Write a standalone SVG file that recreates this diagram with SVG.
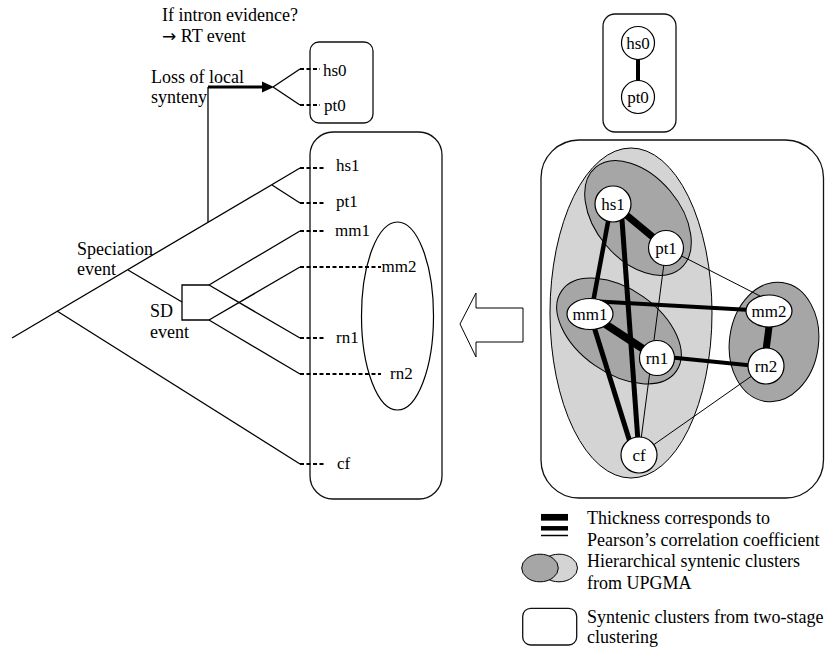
<svg xmlns="http://www.w3.org/2000/svg" width="825" height="649" viewBox="0 0 825 649">
<style>
text{font-family:"Liberation Serif","Times New Roman",serif;font-size:18px;fill:#000}
.lbl{font-size:17px}
.nl{font-size:17px;text-anchor:middle}
.ln{stroke:#000;stroke-width:1.3;fill:none}
.dash{stroke:#000;stroke-width:2.2;stroke-dasharray:4 2.5;fill:none}
.box{fill:#fff;stroke:#111;stroke-width:1.3}
.node{fill:#fff;stroke:#000;stroke-width:1.2}
.light{fill:#d4d4d4;stroke:#000;stroke-width:1}
.dark{fill:#a6a6a6;stroke:#000;stroke-width:1}
.e{stroke:#000;fill:none}
</style>

<!-- left: cluster boxes -->
<g id="box-top-left"><rect class="box" x="310" y="42" width="63" height="81" rx="9"/></g>
<g id="box-main-left"><rect class="box" x="310" y="132" width="132" height="367" rx="23"/></g>
<g id="ellipse-mm2-rn2-left"><ellipse cx="397.5" cy="316" rx="36" ry="94" fill="none" stroke="#000" stroke-width="1.2"/></g>

<!-- tree connectors -->
<g id="tree">
<line class="ln" x1="12" y1="338" x2="300" y2="168"/>
<line class="ln" x1="272" y1="185" x2="300" y2="203"/>
<line class="ln" x1="57" y1="311" x2="300" y2="464"/>
<line class="ln" x1="128" y1="270" x2="182" y2="302"/>
<polyline class="ln" points="209,285 182,285 182,320 209,320"/>
<line class="ln" x1="209" y1="285" x2="300" y2="231"/>
<line class="ln" x1="209" y1="285" x2="300" y2="338"/>
<line class="ln" x1="209" y1="320" x2="300" y2="267"/>
<line class="ln" x1="209" y1="320" x2="300" y2="374"/>
<line class="ln" x1="208" y1="222" x2="208" y2="87"/>
<line x1="208" y1="87" x2="263" y2="87" stroke="#000" stroke-width="2.8"/>
<polygon points="262,81.5 274,87 262,92.5" fill="#000"/>
<line class="ln" x1="273" y1="87" x2="300" y2="69"/>
<line class="ln" x1="273" y1="87" x2="300" y2="105"/>
<line class="dash" x1="300" y1="69" x2="320" y2="69"/>
<line class="dash" x1="300" y1="105" x2="320" y2="105"/>
<line class="dash" x1="300" y1="168" x2="326" y2="168"/>
<line class="dash" x1="300" y1="203" x2="326" y2="203"/>
<line class="dash" x1="300" y1="231" x2="326" y2="231"/>
<line class="dash" x1="300" y1="267" x2="381" y2="267"/>
<line class="dash" x1="300" y1="338" x2="326" y2="338"/>
<line class="dash" x1="300" y1="374" x2="381" y2="374"/>
<line class="dash" x1="300" y1="464" x2="326" y2="464"/>
</g>

<!-- left leaf labels -->
<g id="leaf-hs0"><text class="lbl" x="323" y="76">hs0</text></g>
<g id="leaf-pt0"><text class="lbl" x="324" y="111">pt0</text></g>
<g id="leaf-hs1"><text class="lbl" x="336" y="171">hs1</text></g>
<g id="leaf-pt1"><text class="lbl" x="336" y="207">pt1</text></g>
<g id="leaf-mm1"><text class="lbl" x="335" y="236">mm1</text></g>
<g id="leaf-mm2"><text class="lbl" x="381.5" y="272">mm2</text></g>
<g id="leaf-rn1"><text class="lbl" x="336" y="343">rn1</text></g>
<g id="leaf-rn2"><text class="lbl" x="390" y="379">rn2</text></g>
<g id="leaf-cf"><text class="lbl" x="337" y="469">cf</text></g>

<!-- annotations -->
<g id="annotations">
<text x="162" y="20.5">If intron evidence?</text>
<text x="162" y="41.5"><tspan font-family="DejaVu Sans, sans-serif" font-size="17">→</tspan> RT event</text>
<text x="151" y="82.5">Loss of local</text>
<text x="151" y="103">synteny</text>
<text x="77" y="255">Speciation</text>
<text x="77" y="275">event</text>
<text x="150" y="316.5">SD</text>
<text x="150" y="338">event</text>
</g>

<!-- big hollow arrow -->
<g id="big-arrow"><polygon points="460,324 476,293 476,308 523,308 523,342 476,342 476,357" fill="#fff" stroke="#000" stroke-width="1"/></g>

<!-- right: top box -->
<g id="box-top-right"><rect class="box" x="603" y="14" width="73" height="118" rx="12"/></g>
<g id="edge-hs0-pt0"><line class="e" x1="638" y1="59" x2="638" y2="81" stroke-width="4"/></g>
<g id="node-hs0"><circle class="node" cx="638" cy="43" r="16.5"/><text class="nl" x="638" y="49">hs0</text></g>
<g id="node-pt0"><circle class="node" cx="638" cy="97" r="16.5"/><text class="nl" x="638" y="103">pt0</text></g>

<!-- right: main box -->
<g id="box-main-right"><rect class="box" x="541" y="140" width="282.5" height="358" rx="38"/></g>
<g id="clusters">
<ellipse class="light" cx="631" cy="313" rx="81" ry="165"/>
<ellipse class="dark" cx="638" cy="218" rx="42" ry="66" transform="rotate(-40 638 218)"/>
<ellipse class="dark" cx="619" cy="331" rx="70" ry="42" transform="rotate(35 619 331)"/>
<ellipse class="dark" cx="774" cy="342" rx="44.5" ry="60" transform="rotate(8 774 342)"/>
</g>

<g id="edges">
<line class="e" x1="666" y1="248" x2="639" y2="455" stroke-width="1"/>
<line class="e" x1="666" y1="248" x2="760" y2="296" stroke-width="1"/>
<line class="e" x1="766" y1="366" x2="639" y2="455" stroke-width="1"/>
<line class="e" x1="613" y1="204" x2="666" y2="248" stroke-width="7"/>
<line class="e" x1="611" y1="206" x2="591" y2="313" stroke-width="4.5"/>
<line class="e" x1="621" y1="206" x2="639" y2="455" stroke-width="5"/>
<line class="e" x1="590" y1="314" x2="634" y2="455" stroke-width="5"/>
<line class="e" x1="590" y1="314" x2="657" y2="358" stroke-width="8"/>
<line class="e" x1="590" y1="301" x2="769" y2="311" stroke-width="4"/>
<line class="e" x1="657" y1="356" x2="766" y2="367" stroke-width="4"/>
<line class="e" x1="771" y1="311" x2="764" y2="366" stroke-width="7"/>
</g>

<g id="node-hs1"><circle class="node" cx="613" cy="204" r="18"/><text class="nl" x="613" y="210">hs1</text></g>
<g id="node-pt1"><circle class="node" cx="666" cy="248" r="17.5"/><text class="nl" x="666" y="254">pt1</text></g>
<g id="node-mm1"><ellipse class="node" cx="590" cy="314" rx="23" ry="15.5"/><text class="nl" x="590" y="320">mm1</text></g>
<g id="node-rn1"><circle class="node" cx="657" cy="358" r="17.5"/><text class="nl" x="657" y="364">rn1</text></g>
<g id="node-mm2"><ellipse class="node" cx="769" cy="311" rx="23" ry="16"/><text class="nl" x="769" y="317">mm2</text></g>
<g id="node-rn2"><circle class="node" cx="766" cy="366" r="18"/><text class="nl" x="766" y="372">rn2</text></g>
<g id="node-cf"><circle class="node" cx="639" cy="455" r="18"/><text class="nl" x="639" y="461">cf</text></g>

<!-- legend -->
<g id="legend">
<line x1="541" y1="517.3" x2="568" y2="517.3" stroke="#000" stroke-width="6.7"/>
<line x1="541" y1="528.3" x2="568" y2="528.3" stroke="#000" stroke-width="4.5"/>
<line x1="541" y1="535.5" x2="568" y2="535.5" stroke="#000" stroke-width="1.5"/>
<text x="587" y="524">Thickness corresponds to</text>
<text x="587" y="545.5">Pearson’s correlation coefficient</text>
<ellipse class="light" cx="559" cy="568" rx="18.5" ry="13.8"/>
<ellipse class="dark" cx="540" cy="568" rx="18.3" ry="13.8"/>
<text x="587" y="567.3">Hierarchical syntenic clusters</text>
<text x="587" y="589">from UPGMA</text>
<rect class="box" x="522.7" y="608.3" width="54" height="36.7" rx="8"/>
<text x="587" y="623.3">Syntenic clusters from two-stage</text>
<text x="587" y="643.3">clustering</text>
</g>
</svg>
